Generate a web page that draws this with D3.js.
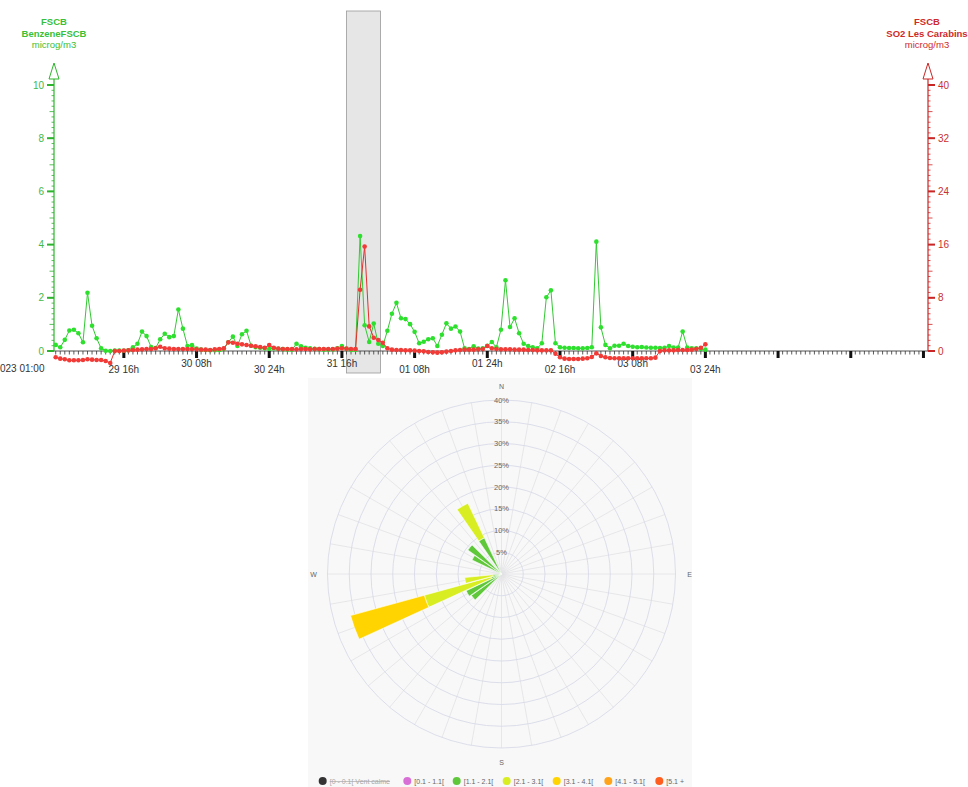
<!DOCTYPE html>
<html>
<head>
<meta charset="utf-8">
<script src="https://cdn.jsdelivr.net/npm/d3@7"></script>
<style>
  body { margin: 0; background: #fff; }
  svg { display: block; font-family: "Liberation Sans", Arial, sans-serif; }
</style>
</head>
<body>
<svg id="chart" width="968" height="787"></svg>
<script>
// ---- data ----
const startTime = new Date(2023, 2, 29, 1);   // 29/03/2023 01:00, hourly values
const endTime = new Date(2023, 3, 6, 1);
const dataEnd = new Date(2023, 3, 4, 0);
const bandStart = new Date(2023, 2, 31, 17);
const bandEnd = new Date(2023, 3, 1, 0, 30);

const benzene = [
  0.23,0.14,0.42,0.77,0.80,0.67,0.33,2.19,0.95,0.48,
  0.10,0.01,0.00,0.02,0.02,0.01,0.03,0.14,0.27,0.73,
  0.56,0.15,0.11,0.44,0.65,0.52,0.56,1.56,0.84,0.19,
  0.22,0.09,0.05,0.04,0.03,0.03,0.04,0.08,0.33,0.54,
  0.19,0.63,0.76,0.20,0.14,0.12,0.10,0.08,0.10,0.08,
  0.07,0.06,0.05,0.27,0.18,0.12,0.10,0.08,0.07,0.05,
  0.05,0.06,0.10,0.19,0.08,0.04,0.05,4.32,0.97,0.34,
  1.03,0.27,0.19,0.76,1.40,1.81,1.23,1.20,1.01,0.72,
  0.29,0.35,0.44,0.48,0.19,0.61,1.04,0.84,0.92,0.73,
  0.10,0.07,0.18,0.09,0.10,0.20,0.34,0.14,0.80,2.66,
  0.90,1.23,0.67,0.27,0.19,0.14,0.10,0.29,2.02,2.28,
  0.29,0.14,0.12,0.11,0.11,0.10,0.10,0.11,0.14,4.11,
  0.89,0.23,0.10,0.20,0.20,0.27,0.19,0.16,0.14,0.15,
  0.13,0.12,0.12,0.11,0.12,0.19,0.13,0.13,0.73,0.13,
  0.10,0.10,0.08,0.05
];
const so2 = [
  -0.95,-1.15,-1.25,-1.4,-1.4,-1.4,-1.35,-1.25,-1.3,-1.35,
  -1.35,-1.5,-1.8,0.0,0.0,0.05,0.1,0.15,0.2,0.25,
  0.3,0.3,0.4,0.65,0.4,0.35,0.3,0.3,0.3,0.3,
  0.3,0.25,0.2,0.2,0.15,0.25,0.3,0.4,1.3,1.25,
  1.1,1.0,0.9,0.8,0.7,0.6,0.5,0.9,0.5,0.35,
  0.3,0.3,0.3,0.25,0.3,0.3,0.25,0.3,0.3,0.3,
  0.3,0.3,0.35,0.4,0.35,0.3,0.3,9.2,15.7,3.7,
  2.0,1.65,1.25,0.4,0.2,0.15,0.15,0.1,0.1,0.05,
  0.0,-0.05,-0.15,-0.2,-0.25,-0.2,-0.1,0.0,0.1,0.15,
  0.2,0.2,0.2,0.25,0.3,0.75,0.4,0.3,0.25,0.25,
  0.25,0.2,0.2,0.2,0.15,0.15,0.1,0.1,0.1,0.1,
  -0.4,-0.95,-1.15,-1.2,-1.2,-1.2,-1.15,-1.1,-0.9,-0.35,
  -0.75,-0.95,-1.05,-1.1,-1.1,-1.1,-1.1,-1.1,-1.1,-1.1,
  -1.1,-1.1,-1.0,0.0,0.1,0.1,0.1,0.15,0.15,0.15,
  0.2,0.3,0.5,1.0
];

const leftTitle = ["FSCB", "BenzeneFSCB", "microg/m3"];
const rightTitle = ["FSCB", "SO2 Les Carabins", "microg/m3"];
const leftTicks = [0, 2, 4, 6, 8, 10];
const rightTicks = [0, 8, 16, 24, 32, 40];
const firstLabel = "023 01:00";

// wind rose: percentage per direction and speed class
const roseDirs = [230, 240, 250, 260, 300, 310, 330];
const speedClasses = ["[0 - 0.1[ Vent calme", "[0.1 - 1.1[", "[1.1 - 2.1[", "[2.1 - 3.1[", "[3.1 - 4.1[", "[4.1 - 5.1[", "[5.1 +"];
const classColors = ["#333333", "#d86fd6", "#5fc83a", "#d8ee22", "#ffd400", "#ffa31a", "#ff5e1f"];
const freq_0_1 = [0, 0, 0, 0, 0, 0, 0];
const freq_1_2 = [8.5, 9.0, 2.5, 2.0, 7.5, 9.5, 9.2];
const freq_2_3 = [0, 0, 15.9, 6.5, 0, 0, 8.8];
const freq_3_4 = [0, 0, 17.6, 0, 0, 0, 0];
const roseRings = [5, 10, 15, 20, 25, 30, 35, 40];
const compass = [["N", 0], ["E", 90], ["S", 180], ["W", 270]];

// ---- setup ----
const svg = d3.select("#chart");
const green = "#33c933", greenAxis = "#2db42d";
const red = "#e3302c", redAxis = "#c92626";

const times = benzene.map((d, i) => d3.timeHour.offset(startTime, i));

const x = d3.scaleTime().domain([startTime, endTime]).range([55.7, 928]);
const yL = d3.scaleLinear().domain([0, 10]).range([351, 85]);
const yR = d3.scaleLinear().domain([0, 40]).range([351, 85]);

// highlighted period
svg.append("rect")
  .attr("x", x(bandStart)).attr("y", 11)
  .attr("width", x(bandEnd) - x(bandStart)).attr("height", 362)
  .attr("fill", "#e6e6e6").attr("stroke", "#9a9a9a").attr("stroke-width", 0.8);

// x axis
const xg = svg.append("g");
xg.append("line").attr("x1", 54).attr("x2", 928).attr("y1", 351).attr("y2", 351)
  .attr("stroke", "#555").attr("stroke-width", 1);
xg.selectAll(".minor").data(d3.timeHour.range(startTime, endTime)).enter()
  .append("line")
  .attr("x1", d => x(d)).attr("x2", d => x(d))
  .attr("y1", 351).attr("y2", 354.5)
  .attr("stroke", "#333").attr("stroke-width", 0.8);
const majors = d3.timeHour.range(new Date(2023, 2, 29, 16), endTime, 16);
xg.selectAll(".major").data(majors).enter()
  .append("rect")
  .attr("x", d => x(d) - 1.5).attr("y", 351)
  .attr("width", 3).attr("height", 7).attr("fill", "#111");

function fmtTick(d) {
  if (d.getHours() === 0) {
    const prev = d3.timeDay.offset(d, -1);
    return d3.timeFormat("%d")(prev) + " 24h";
  }
  return d3.timeFormat("%d")(d) + " " + d3.timeFormat("%H")(d) + "h";
}
xg.selectAll(".lbl").data(majors.filter(d => d <= dataEnd)).enter()
  .append("text")
  .attr("x", d => x(d)).attr("y", (d, i) => i % 2 === 0 ? 372.5 : 366.5)
  .attr("text-anchor", "middle").attr("font-size", 10).attr("fill", "#333")
  .text(fmtTick);
xg.append("text").attr("x", 0).attr("y", 371.5).attr("font-size", 10)
  .attr("fill", "#333").text(firstLabel);

// y axes
function drawAxis(xPos, scale, ticks, side, color, labelColor, minorStep) {
  const g = svg.append("g");
  const dir = side === "left" ? -1 : 1;
  g.append("line").attr("x1", xPos).attr("x2", xPos).attr("y1", 79).attr("y2", 351)
    .attr("stroke", color).attr("stroke-width", 1.2);
  g.append("path")
    .attr("d", `M${xPos},63 L${xPos - 5},79 L${xPos + 5},79 Z`)
    .attr("fill", "#fff").attr("stroke", color).attr("stroke-width", 1);
  const dmax = scale.domain()[1];
  const minor = d3.range(0, dmax + 0.0001, minorStep);
  g.selectAll(".mn").data(minor).enter().append("line")
    .attr("x1", xPos).attr("x2", (d, i) => xPos + dir * (i % 5 === 0 ? 4.5 : 2.5))
    .attr("y1", d => scale(d)).attr("y2", d => scale(d))
    .attr("stroke", color).attr("stroke-width", 0.8);
  g.selectAll(".mj").data(ticks).enter().append("line")
    .attr("x1", xPos).attr("x2", xPos + dir * 7)
    .attr("y1", d => scale(d)).attr("y2", d => scale(d))
    .attr("stroke", color).attr("stroke-width", 2);
  g.selectAll(".tl").data(ticks).enter().append("text")
    .attr("x", xPos + dir * 10).attr("y", d => scale(d) + 3.5)
    .attr("text-anchor", side === "left" ? "end" : "start")
    .attr("font-size", 10).attr("fill", labelColor)
    .text(d => d);
}
drawAxis(54, yL, leftTicks, "left", greenAxis, "#44b944", 0.2);
drawAxis(928, yR, rightTicks, "right", redAxis, "#c93030", 0.8);

function drawTitle(lines, cx, color) {
  svg.selectAll(null).data(lines).enter().append("text")
    .attr("x", cx).attr("y", (d, i) => 25 + i * 11.7)
    .attr("text-anchor", "middle").attr("font-size", 9.5)
    .attr("font-weight", (d, i) => i < 2 ? "bold" : "normal")
    .attr("fill", color).text(d => d);
}
drawTitle(leftTitle, 54, "#38c038");
drawTitle(rightTitle, 927, "#cf2a2a");

// series
const lineG = d3.line().x((d, i) => x(times[i])).y(d => yL(d));
const lineR = d3.line().x((d, i) => x(times[i])).y(d => yR(d));

svg.append("path").datum(benzene).attr("d", lineG)
  .attr("fill", "none").attr("stroke", green).attr("stroke-width", 1);
svg.selectAll(".gm").data(benzene).enter().append("circle")
  .attr("cx", (d, i) => x(times[i])).attr("cy", d => yL(d)).attr("r", 2.3)
  .attr("fill", "#2ee02e");

svg.append("path").datum(so2).attr("d", lineR)
  .attr("fill", "none").attr("stroke", red).attr("stroke-width", 1);
svg.selectAll(".rm").data(so2).enter().append("circle")
  .attr("cx", (d, i) => x(times[i])).attr("cy", d => yR(d)).attr("r", 2.3)
  .attr("fill", "#f23a36");

// ---- wind rose ----
const cx = 501.5, cy = 574, R = 174;
svg.append("rect").attr("x", 308).attr("y", 378).attr("width", 384).attr("height", 409)
  .attr("fill", "#f8f8f8");
const rScale = d3.scaleLinear().domain([0, 40]).range([0, R]);
const rose = svg.append("g").attr("transform", `translate(${cx},${cy})`);

rose.selectAll(".spoke").data(d3.range(0, 360, 10)).enter().append("line")
  .attr("x1", 0).attr("y1", 0)
  .attr("x2", d => R * Math.sin(d * Math.PI / 180))
  .attr("y2", d => -R * Math.cos(d * Math.PI / 180))
  .attr("stroke", "#e2e2e6").attr("stroke-width", 0.8);
rose.selectAll(".ring").data(roseRings).enter().append("circle")
  .attr("r", d => rScale(d)).attr("fill", "none")
  .attr("stroke", "#d4d7e6").attr("stroke-width", 0.8);

const stackSeries = [freq_0_1, freq_1_2, freq_2_3, freq_3_4];
const arc = d3.arc();
roseDirs.forEach((dir, j) => {
  let acc = 0;
  stackSeries.forEach((series, k) => {
    const v = series[j];
    if (v <= 0) return;
    const a0 = (dir - 4.6) * Math.PI / 180, a1 = (dir + 4.6) * Math.PI / 180;
    rose.append("path")
      .attr("d", arc({ innerRadius: rScale(acc), outerRadius: rScale(acc + v), startAngle: a0, endAngle: a1 }))
      .attr("fill", classColors[k + 1]).attr("stroke", "#fff").attr("stroke-width", 0.6);
    acc += v;
  });
});

rose.selectAll(".rl").data(roseRings).enter().append("text")
  .attr("x", 0).attr("y", d => -rScale(d) + 2.5)
  .attr("text-anchor", "middle").attr("font-size", 7.5).attr("fill", "#666")
  .text(d => d + "%");
rose.selectAll(".cp").data(compass).enter().append("text")
  .attr("x", d => (R + 14) * Math.sin(d[1] * Math.PI / 180))
  .attr("y", d => -(R + 14) * Math.cos(d[1] * Math.PI / 180) + 2.5)
  .attr("text-anchor", "middle").attr("font-size", 7).attr("fill", "#666")
  .text(d => d[0]);

// legend
const legendX = [322.7, 407.3, 456.7, 506.7, 556.7, 608.3, 659.3];
const leg = svg.append("g");
speedClasses.forEach((c, i) => {
  leg.append("circle").attr("cx", legendX[i]).attr("cy", 781).attr("r", 4)
    .attr("fill", classColors[i]);
  leg.append("text").attr("x", legendX[i] + 7).attr("y", 783.5)
    .attr("font-size", 7).attr("fill", i === 0 ? "#aaa" : "#666")
    .attr("text-decoration", i === 0 ? "line-through" : null)
    .text(c);
});
</script>
</body>
</html>
